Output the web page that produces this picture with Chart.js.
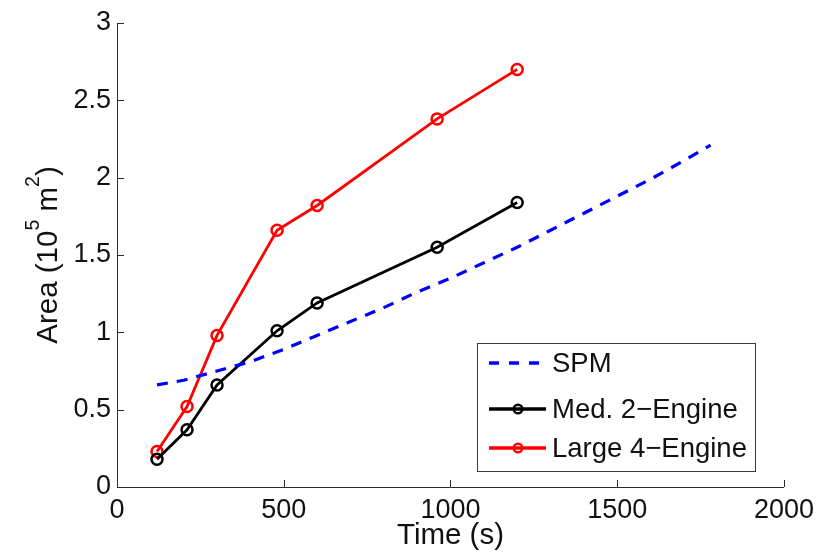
<!DOCTYPE html>
<html>
<head>
<meta charset="utf-8">
<script src="https://cdn.jsdelivr.net/npm/chart.js@4/dist/chart.umd.min.js"></script>
<style>
  html, body { margin: 0; padding: 0; background: #ffffff; }
  #wrap { width: 821px; height: 554px; }
</style>
</head>
<body>
<div id="wrap"><canvas id="c" width="821" height="554"></canvas></div>
<script>
// Sampled run times (s)
const times = [120, 210, 300, 480, 600, 960, 1200];
// Covered area (10^5 m^2) per aircraft class
const med2Engine = [0.18, 0.37, 0.66, 1.01, 1.19, 1.55, 1.84];
const large4Engine = [0.23, 0.52, 0.98, 1.66, 1.82, 2.38, 2.70];
// SPM prediction curve
const spmTimes = [120, 200, 300, 400, 500, 600, 700, 800, 900, 1000, 1100, 1200, 1300, 1400, 1500, 1600, 1700, 1780];
const spmArea = [0.66, 0.69, 0.75, 0.81, 0.89, 0.98, 1.07, 1.16, 1.26, 1.35, 1.45, 1.55, 1.66, 1.77, 1.88, 1.99, 2.11, 2.21];
// Axis ticks
const xTicks = [0, 500, 1000, 1500, 2000];
const yTicks = [0, 0.5, 1, 1.5, 2, 2.5, 3];

const seriesLabels = ['SPM', 'Med. 2\u2212Engine', 'Large 4\u2212Engine'];

const FONT = "'Liberation Sans', Arial, Helvetica, sans-serif";
const TEXT = '#111111';
const AXIS = '#2a2a2a';

const pts = (xs, ys) => xs.map((x, i) => ({ x: x, y: ys[i] }));

// Ticks point inward from the axis lines
const innerTicks = {
  id: 'innerTicks',
  beforeDatasetsDraw(chart) {
    const { ctx, chartArea: a, scales: { x, y } } = chart;
    const len = 7;
    ctx.save();
    ctx.strokeStyle = AXIS;
    ctx.lineWidth = 1;
    ctx.beginPath();
    xTicks.forEach(v => {
      const px = Math.round(x.getPixelForValue(v)) + 0.5;
      ctx.moveTo(px, a.bottom);
      ctx.lineTo(px, a.bottom - len);
    });
    yTicks.forEach(v => {
      const py = Math.round(y.getPixelForValue(v)) + 0.5;
      ctx.moveTo(a.left, py);
      ctx.lineTo(a.left + len, py);
    });
    ctx.stroke();
    ctx.restore();
  }
};

// Vertical axis title with superscripts
const yTitle = {
  id: 'yTitle',
  afterDraw(chart) {
    const { ctx, chartArea: a } = chart;
    const main = 29.5, sup = 19.5, rise = 18;
    const parts = [
      { t: 'Area (10', s: main, r: 0 },
      { t: '5', s: sup, r: rise },
      { t: ' m', s: main, r: 0 },
      { t: '2', s: sup, r: rise },
      { t: ')', s: main, r: 0 }
    ];
    ctx.save();
    ctx.fillStyle = TEXT;
    ctx.textBaseline = 'alphabetic';
    let total = 0;
    parts.forEach(p => { ctx.font = p.s + 'px ' + FONT; p.w = ctx.measureText(p.t).width; total += p.w; });
    ctx.translate(56.5, (a.top + a.bottom) / 2);
    ctx.rotate(-Math.PI / 2);
    let cx = -total / 2;
    parts.forEach(p => {
      ctx.font = p.s + 'px ' + FONT;
      ctx.fillText(p.t, cx, -p.r);
      cx += p.w;
    });
    ctx.restore();
  }
};

// Boxed legend in the lower right of the plot area
const boxLegend = {
  id: 'boxLegend',
  afterDraw(chart) {
    const { ctx } = chart;
    const box = { l: 477.5, t: 343.5, r: 755.5, b: 471.5 };
    const rows = [363, 409, 448];
    ctx.save();
    ctx.fillStyle = '#ffffff';
    ctx.fillRect(box.l, box.t, box.r - box.l, box.b - box.t);
    ctx.strokeStyle = '#3a3a3a';
    ctx.lineWidth = 1;
    ctx.strokeRect(box.l, box.t, box.r - box.l, box.b - box.t);
    chart.data.datasets.forEach((ds, i) => {
      const y = rows[i];
      ctx.strokeStyle = ds.borderColor;
      ctx.lineWidth = 3.5;
      ctx.setLineDash(ds.borderDash ? [10, 10] : []);
      ctx.beginPath();
      ctx.moveTo(489, y);
      ctx.lineTo(546, y);
      ctx.stroke();
      ctx.setLineDash([]);
      if (ds.pointRadius > 0) {
        ctx.lineWidth = 2.4;
        ctx.beginPath();
        ctx.arc(518, y, 4.3, 0, Math.PI * 2);
        ctx.stroke();
      }
      ctx.fillStyle = TEXT;
      ctx.font = '27.5px ' + FONT;
      ctx.textBaseline = 'middle';
      ctx.textAlign = 'left';
      ctx.fillText(ds.label, 552, y + 1);
    });
    ctx.restore();
  }
};

new Chart(document.getElementById('c'), {
  type: 'line',
  data: {
    datasets: [
      {
        label: seriesLabels[0],
        data: pts(spmTimes, spmArea),
        borderColor: '#0000ff',
        borderWidth: 3.2,
        borderDash: [11, 9],
        pointRadius: 0,
        tension: 0,
        fill: false
      },
      {
        label: seriesLabels[1],
        data: pts(times, med2Engine),
        borderColor: '#000000',
        borderWidth: 2.8,
        pointRadius: 5.5,
        pointBorderWidth: 2.5,
        pointBorderColor: '#000000',
        pointBackgroundColor: 'rgba(0,0,0,0)',
        tension: 0,
        fill: false
      },
      {
        label: seriesLabels[2],
        data: pts(times, large4Engine),
        borderColor: '#ff0000',
        borderWidth: 2.8,
        pointRadius: 5.5,
        pointBorderWidth: 2.5,
        pointBorderColor: '#ff0000',
        pointBackgroundColor: 'rgba(0,0,0,0)',
        tension: 0,
        fill: false
      }
    ]
  },
  options: {
    responsive: false,
    animation: false,
    devicePixelRatio: 1,
    layout: { padding: { top: 23, right: 34, left: 0, bottom: 0 } },
    plugins: {
      legend: { display: false },
      tooltip: { enabled: false }
    },
    scales: {
      x: {
        type: 'linear',
        min: 0,
        max: 2000,
        afterBuildTicks: s => { s.ticks = xTicks.map(v => ({ value: v })); },
        afterFit: s => { s.height = 67; },
        grid: { display: false, drawTicks: false },
        border: { display: true, color: AXIS, width: 1 },
        ticks: {
          color: TEXT,
          font: { family: FONT, size: 27 },
          padding: 7,
          maxRotation: 0,
          callback: v => String(v)
        },
        title: {
          display: true,
          text: 'Time (s)',
          color: TEXT,
          font: { family: FONT, size: 29.5 },
          padding: { top: 0, bottom: 0 }
        }
      },
      y: {
        type: 'linear',
        min: 0,
        max: 3,
        afterBuildTicks: s => { s.ticks = yTicks.map(v => ({ value: v })); },
        afterFit: s => { s.width = 117; },
        grid: { display: false, drawTicks: false },
        border: { display: true, color: AXIS, width: 1 },
        ticks: {
          color: TEXT,
          font: { family: FONT, size: 27 },
          padding: 6,
          callback: v => String(v)
        }
      }
    }
  },
  plugins: [innerTicks, yTitle, boxLegend]
});
</script>
</body>
</html>
